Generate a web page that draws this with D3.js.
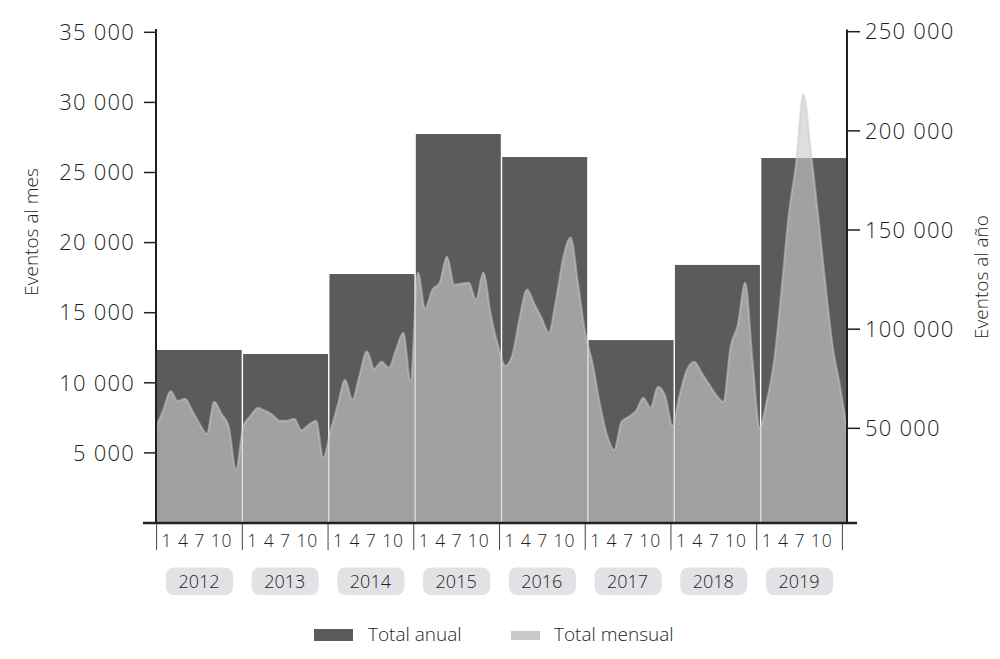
<!DOCTYPE html>
<html>
<head>
<meta charset="utf-8">
<script src="https://cdn.jsdelivr.net/npm/d3@7"></script>
<style>
  html, body { margin: 0; padding: 0; background: #ffffff; }
  svg { display: block; font-family: "Open Sans", "Lato", sans-serif; font-weight: 300; }
</style>
</head>
<body>
<svg id="chart" width="1000" height="659"></svg>
<script>
// ---- data ----
const years = [2012, 2013, 2014, 2015, 2016, 2017, 2018, 2019];
const annualTotals = [89500, 87500, 127800, 198400, 186800, 94500, 132400, 186300];
const monthly2012 = [6860, 8070, 9400, 8700, 8860, 8000, 7070, 6360, 8640, 7790, 6860, 3790];
const monthly2013 = [6880, 7640, 8210, 8000, 7710, 7290, 7290, 7430, 6610, 7000, 7290, 4640];
const monthly2014 = [6570, 8430, 10210, 8790, 10570, 12240, 11000, 11500, 11070, 12360, 13570, 10090];
const monthly2015 = [17860, 15290, 16640, 17140, 19000, 17000, 17070, 17140, 15930, 17860, 14930, 12710];
const monthly2016 = [11210, 12000, 14640, 16640, 15640, 14640, 13570, 15930, 18930, 20360, 17140, 13570];
const monthly2017 = [11430, 8550, 6290, 5210, 7210, 7570, 8000, 8930, 8210, 9710, 9070, 6930];
const monthly2018 = [9140, 10930, 11500, 10710, 9930, 9140, 8640, 12570, 14140, 17140, 11640, 6790];
const monthly2019 = [8790, 11640, 16640, 22000, 25640, 30570, 26640, 22070, 17210, 12710, 9860, 6640];
const monthlyTotals = [].concat(monthly2012, monthly2013, monthly2014, monthly2015,
                                monthly2016, monthly2017, monthly2018, monthly2019);
const leftTicks = [5000, 10000, 15000, 20000, 25000, 30000, 35000];
const rightTicks = [50000, 100000, 150000, 200000, 250000];
const monthTickLabels = [1, 4, 7, 10];
const leftTitle = "Eventos al mes";
const rightTitle = "Eventos al año";
const legendLabels = ["Total anual", "Total mensual"];

// ---- setup ----
const svg = d3.select("#chart");
const ink = "#231f20";
const barColor = "#5b5b5e";
const areaColor = "#cacace";

const locale = d3.formatLocale({ decimal: ",", thousands: " ", grouping: [3], currency: ["", ""] });
const fmt = locale.format(",");

const x0 = 156, x1 = 847;
const yLeft = d3.scaleLinear().domain([0, 35000]).range([523, 32.3]);
const yRight = d3.scaleLinear().domain([0, 250000]).range([527.5, 31.7]);
const xYear = d3.scaleBand().domain(years).range([x0, x1]).padding(0);
const xMonth = d3.scaleLinear().domain([0, monthlyTotals.length - 1]).range([x0, x1]);
const xGroup = d3.scaleBand().domain(years).range([156.6, 842.4]).padding(0);

// ---- annual bars ----
const gap = 0.7;
svg.append("g").selectAll("rect")
  .data(years)
  .join("rect")
  .attr("x", (d) => xYear(d) + gap)
  .attr("width", xYear.bandwidth() - 2 * gap)
  .attr("y", (d, i) => yRight(annualTotals[i]))
  .attr("height", (d, i) => yLeft(0) - yRight(annualTotals[i]))
  .attr("fill", barColor);

// ---- monthly area ----
const area = d3.area()
  .x((d, i) => xMonth(i))
  .y0(yLeft(0))
  .y1((d) => yLeft(d))
  .curve(d3.curveMonotoneX);
const line = d3.line()
  .x((d, i) => xMonth(i))
  .y((d) => yLeft(d))
  .curve(d3.curveMonotoneX);

svg.append("path")
  .datum(monthlyTotals)
  .attr("d", area)
  .attr("fill", areaColor)
  .attr("fill-opacity", 0.63);
svg.append("path")
  .datum(monthlyTotals)
  .attr("d", line)
  .attr("fill", "none")
  .attr("stroke", areaColor)
  .attr("stroke-opacity", 0.5)
  .attr("stroke-width", 2.2)
  .attr("stroke-linejoin", "round");

// ---- left axis ----
const gL = svg.append("g");
gL.append("line").attr("x1", x0).attr("x2", x0).attr("y1", 29).attr("y2", 524)
  .attr("stroke", ink).attr("stroke-width", 2);
gL.selectAll("line.t").data(leftTicks).join("line").attr("class", "t")
  .attr("x1", 144).attr("x2", x0).attr("y1", (d) => yLeft(d)).attr("y2", (d) => yLeft(d))
  .attr("stroke", ink).attr("stroke-width", 1.5);
gL.selectAll("text").data(leftTicks).join("text")
  .attr("x", 135).attr("y", (d) => yLeft(d)).attr("dy", "0.35em")
  .attr("text-anchor", "end").attr("font-size", 22).attr("letter-spacing", 1.2)
  .attr("fill", ink).text((d) => fmt(d));

// ---- right axis ----
const gR = svg.append("g");
gR.append("line").attr("x1", x1).attr("x2", x1).attr("y1", 29.5).attr("y2", 524)
  .attr("stroke", ink).attr("stroke-width", 2);
gR.selectAll("line.t").data(rightTicks).join("line").attr("class", "t")
  .attr("x1", x1).attr("x2", 860).attr("y1", (d) => yRight(d)).attr("y2", (d) => yRight(d))
  .attr("stroke", ink).attr("stroke-width", 1.5);
gR.selectAll("text").data(rightTicks).join("text")
  .attr("x", 865).attr("y", (d) => yRight(d)).attr("dy", "0.35em")
  .attr("text-anchor", "start").attr("font-size", 22).attr("letter-spacing", 1.2)
  .attr("fill", ink).text((d) => fmt(d));

// ---- baseline ----
svg.append("line").attr("x1", 143).attr("x2", 857).attr("y1", yLeft(0)).attr("y2", yLeft(0))
  .attr("stroke", ink).attr("stroke-width", 2.5);

// ---- month groups below axis ----
const gB = svg.append("g");
gB.selectAll("line").data(years.concat(["end"])).join("line")
  .attr("x1", (d) => d === "end" ? xGroup.range()[1] : xGroup(d))
  .attr("x2", (d) => d === "end" ? xGroup.range()[1] : xGroup(d))
  .attr("y1", 524).attr("y2", 550)
  .attr("stroke", "#444").attr("stroke-width", 1);
gB.selectAll("text").data(years).join("text")
  .attr("x", (d) => xGroup(d) + 5)
  .attr("y", 547)
  .attr("font-size", 17.5)
  .attr("fill", ink)
  .attr("textLength", 70)
  .attr("lengthAdjust", "spacing")
  .text(monthTickLabels.join(" "));

// ---- year pills ----
const gP = svg.append("g");
gP.selectAll("rect").data(years).join("rect")
  .attr("x", (d) => xGroup(d) + xGroup.bandwidth() / 2 - 33.5)
  .attr("y", 567.5).attr("width", 67).attr("height", 27.5).attr("rx", 8)
  .attr("fill", "#e1e1e6");
gP.selectAll("text").data(years).join("text")
  .attr("x", (d) => xGroup(d) + xGroup.bandwidth() / 2 - 0.5)
  .attr("y", 588).attr("text-anchor", "middle")
  .attr("font-size", 18).attr("fill", ink)
  .text((d) => d);

// ---- axis titles ----
svg.append("text")
  .attr("transform", "translate(38,232) rotate(-90)")
  .attr("text-anchor", "middle").attr("font-size", 19).attr("fill", ink)
  .text(leftTitle);
svg.append("text")
  .attr("transform", "translate(988,277) rotate(-90)")
  .attr("text-anchor", "middle").attr("font-size", 19).attr("fill", ink)
  .text(rightTitle);

// ---- legend ----
const gLeg = svg.append("g");
gLeg.append("rect").attr("x", 314).attr("y", 629).attr("width", 39).attr("height", 12).attr("fill", barColor);
gLeg.append("text").attr("x", 368).attr("y", 641).attr("font-size", 19).attr("fill", ink).text(legendLabels[0]);
gLeg.append("rect").attr("x", 511).attr("y", 631).attr("width", 29).attr("height", 9).attr("fill", "#c8c8cc");
gLeg.append("text").attr("x", 554).attr("y", 641).attr("font-size", 19).attr("fill", ink).text(legendLabels[1]);
</script>
</body>
</html>
